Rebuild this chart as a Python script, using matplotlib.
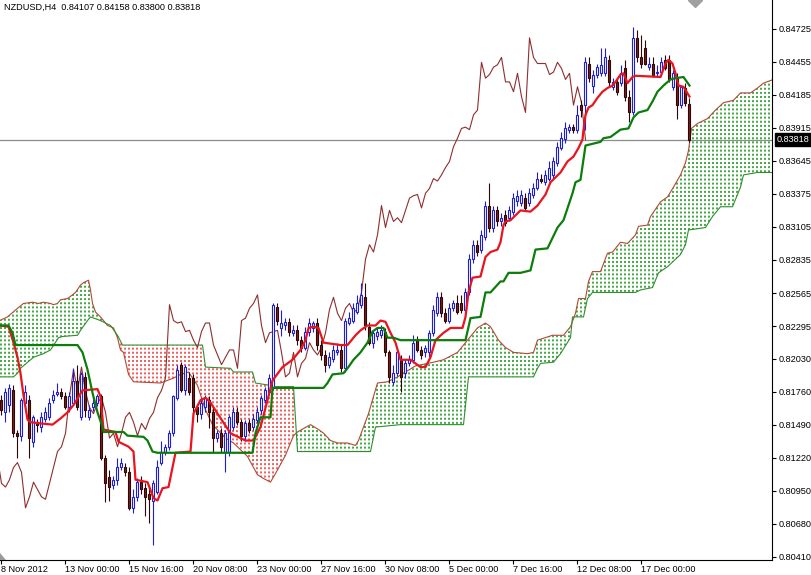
import numpy as np
import matplotlib
matplotlib.use('Agg')
import matplotlib.pyplot as plt
from matplotlib.patches import Polygon
from matplotlib import transforms

plt.rcParams['font.family'] = ['Liberation Sans', 'DejaVu Sans']

# NZDUSD H4 candles (one entry per bar, bar 0 = first visible bar)
open_ = [
    0.8169, 0.8159, 0.8165, 0.8177, 0.8142, 0.8140, 0.8167, 0.8169, 0.8135, 0.8151,
    0.8147, 0.8154, 0.8155, 0.8169, 0.8174, 0.8176, 0.8172, 0.8163, 0.8167, 0.8185,
    0.8155, 0.8188, 0.8155, 0.8163, 0.8167, 0.8172, 0.8122, 0.8106, 0.8100, 0.8104,
    0.8114, 0.8114, 0.8110, 0.8081, 0.8090, 0.8102, 0.8097, 0.8092, 0.8087, 0.8094,
    0.8118, 0.8127, 0.8131, 0.8142, 0.8171, 0.8198, 0.8177, 0.8187, 0.8187, 0.8163,
    0.8158, 0.8163, 0.8169, 0.8159, 0.8138, 0.8142, 0.8127, 0.8127, 0.8147, 0.8159,
    0.8151, 0.8140, 0.8150, 0.8147, 0.8153, 0.8161, 0.8169, 0.8176, 0.8180, 0.8245,
    0.8228, 0.8230, 0.8233, 0.8224, 0.8226, 0.8218, 0.8212, 0.8225, 0.8228, 0.8232,
    0.8214, 0.8206, 0.8198, 0.8203, 0.8208, 0.8210, 0.8195, 0.8232, 0.8234, 0.8241,
    0.8247, 0.8253, 0.8229, 0.8216, 0.8221, 0.8222, 0.8225, 0.8208, 0.8184, 0.8191,
    0.8202, 0.8191, 0.8199, 0.8202, 0.8218, 0.8210, 0.8208, 0.8208, 0.8224, 0.8240,
    0.8253, 0.8240, 0.8234, 0.8244, 0.8248, 0.8248, 0.8243, 0.8257, 0.8284, 0.8296,
    0.8292, 0.8302, 0.8328, 0.8310, 0.8324, 0.8315, 0.8320, 0.8318, 0.8323, 0.8332,
    0.8330, 0.8334, 0.8330, 0.8337, 0.8342, 0.8350, 0.8347, 0.8350, 0.8353, 0.8363,
    0.8375, 0.8382, 0.8390, 0.8392, 0.8390, 0.8410, 0.8410, 0.8444, 0.8426, 0.8435,
    0.8436, 0.8436, 0.8447, 0.8425, 0.8429, 0.8428, 0.8440, 0.8417, 0.8404, 0.8465,
    0.8449, 0.8457, 0.8441, 0.8444, 0.8436, 0.8437, 0.8447, 0.8447, 0.8425, 0.8432,
    0.8410, 0.8424, 0.84107]
high = [
    0.8173, 0.8179, 0.8182, 0.8181, 0.8145, 0.8171, 0.8181, 0.8173, 0.8157, 0.8154,
    0.8159, 0.8163, 0.8171, 0.8177, 0.8183, 0.8179, 0.8176, 0.8176, 0.8195, 0.8198,
    0.8192, 0.8192, 0.8165, 0.8171, 0.8174, 0.8174, 0.8124, 0.8112, 0.8107, 0.8122,
    0.8122, 0.8118, 0.8114, 0.8096, 0.8105, 0.8107, 0.8101, 0.8100, 0.8104, 0.8120,
    0.8136, 0.8133, 0.8145, 0.8173, 0.8198, 0.8200, 0.8198, 0.8192, 0.8190, 0.8166,
    0.8171, 0.8173, 0.8172, 0.8163, 0.8145, 0.8146, 0.8145, 0.8157, 0.8163, 0.8163,
    0.8154, 0.8153, 0.8154, 0.8158, 0.8163, 0.8173, 0.8180, 0.8190, 0.8248, 0.8248,
    0.8243, 0.8236, 0.8236, 0.8230, 0.8230, 0.8221, 0.8229, 0.8236, 0.8234, 0.8236,
    0.8218, 0.8210, 0.8208, 0.8214, 0.8216, 0.8214, 0.8236, 0.8241, 0.8248, 0.8255,
    0.8265, 0.8265, 0.8233, 0.8226, 0.8228, 0.8230, 0.8228, 0.8210, 0.8198, 0.8210,
    0.8206, 0.8203, 0.8206, 0.8222, 0.8221, 0.8213, 0.8214, 0.8226, 0.8247, 0.8257,
    0.8257, 0.8244, 0.8248, 0.8251, 0.8255, 0.8255, 0.8261, 0.8288, 0.8300, 0.8300,
    0.8308, 0.8332, 0.8346, 0.8328, 0.8328, 0.8322, 0.8324, 0.8328, 0.8338, 0.8341,
    0.8341, 0.8338, 0.8342, 0.8346, 0.8355, 0.8354, 0.8357, 0.8364, 0.8368, 0.8380,
    0.8388, 0.8396, 0.8395, 0.8395, 0.8410, 0.8414, 0.8449, 0.8449, 0.8439, 0.8444,
    0.8457, 0.8457, 0.8451, 0.8432, 0.8432, 0.8443, 0.8447, 0.8422, 0.8474, 0.8471,
    0.8467, 0.8463, 0.8449, 0.8449, 0.8443, 0.8449, 0.8451, 0.8451, 0.8439, 0.8436,
    0.8426, 0.8428, 0.84158]
low = [
    0.8157, 0.8151, 0.8159, 0.8139, 0.8122, 0.8136, 0.8164, 0.8122, 0.8131, 0.8143,
    0.8143, 0.8151, 0.8153, 0.8167, 0.8172, 0.8170, 0.8162, 0.8159, 0.8165, 0.8161,
    0.8153, 0.8155, 0.8153, 0.8160, 0.8164, 0.8120, 0.8086, 0.8087, 0.8096, 0.8100,
    0.8112, 0.8107, 0.8079, 0.8077, 0.8087, 0.8092, 0.8074, 0.8069, 0.8051, 0.8092,
    0.8116, 0.8124, 0.8128, 0.8140, 0.8169, 0.8176, 0.8173, 0.8173, 0.8153, 0.8151,
    0.8154, 0.8159, 0.8146, 0.8126, 0.8135, 0.8127, 0.8110, 0.8123, 0.8145, 0.8149,
    0.8136, 0.8136, 0.8142, 0.8145, 0.8150, 0.8158, 0.8167, 0.8173, 0.8177, 0.8230,
    0.8221, 0.8226, 0.8221, 0.8221, 0.8214, 0.8208, 0.8210, 0.8221, 0.8225, 0.8210,
    0.8202, 0.8192, 0.8195, 0.8200, 0.8206, 0.8192, 0.8192, 0.8230, 0.8232, 0.8239,
    0.8244, 0.8226, 0.8214, 0.8212, 0.8218, 0.8220, 0.8205, 0.8183, 0.8181, 0.8189,
    0.8176, 0.8187, 0.8197, 0.8199, 0.8208, 0.8203, 0.8204, 0.8204, 0.8221, 0.8238,
    0.8237, 0.8232, 0.8232, 0.8242, 0.8239, 0.8240, 0.8240, 0.8255, 0.8281, 0.8287,
    0.8289, 0.8300, 0.8306, 0.8306, 0.8311, 0.8311, 0.8311, 0.8315, 0.8320, 0.8328,
    0.8328, 0.8324, 0.8328, 0.8334, 0.8341, 0.8346, 0.8345, 0.8348, 0.8350, 0.8360,
    0.8373, 0.8379, 0.8387, 0.8387, 0.8387, 0.8400, 0.8390, 0.8429, 0.8420, 0.8432,
    0.8434, 0.8434, 0.8426, 0.8422, 0.8418, 0.8426, 0.8413, 0.8396, 0.8402, 0.8445,
    0.8440, 0.8443, 0.8439, 0.8433, 0.8434, 0.8435, 0.8439, 0.8429, 0.8422, 0.8399,
    0.8408, 0.8409, 0.83800]
close = [
    0.8161, 0.8176, 0.8179, 0.8142, 0.8140, 0.8169, 0.8176, 0.8138, 0.8155, 0.8149,
    0.8155, 0.8159, 0.8167, 0.8173, 0.8176, 0.8172, 0.8163, 0.8172, 0.8185, 0.8163,
    0.8190, 0.8161, 0.8161, 0.8167, 0.8172, 0.8122, 0.8101, 0.8098, 0.8104, 0.8114,
    0.8118, 0.8110, 0.8081, 0.8090, 0.8102, 0.8096, 0.8090, 0.8088, 0.8101, 0.8114,
    0.8127, 0.8131, 0.8142, 0.8172, 0.8194, 0.8177, 0.8196, 0.8176, 0.8163, 0.8158,
    0.8167, 0.8171, 0.8159, 0.8138, 0.8142, 0.8131, 0.8142, 0.8155, 0.8159, 0.8151,
    0.8140, 0.8150, 0.8145, 0.8154, 0.8159, 0.8171, 0.8177, 0.8187, 0.8247, 0.8234,
    0.8232, 0.8233, 0.8225, 0.8226, 0.8218, 0.8212, 0.8225, 0.8232, 0.8232, 0.8214,
    0.8206, 0.8198, 0.8204, 0.8210, 0.8210, 0.8195, 0.8234, 0.8236, 0.8244, 0.8248,
    0.8255, 0.8230, 0.8216, 0.8224, 0.8225, 0.8226, 0.8208, 0.8188, 0.8191, 0.8208,
    0.8188, 0.8199, 0.8203, 0.8216, 0.8210, 0.8206, 0.8212, 0.8224, 0.8243, 0.8253,
    0.8240, 0.8234, 0.8244, 0.8248, 0.8241, 0.8243, 0.8257, 0.8284, 0.8296, 0.8290,
    0.8304, 0.8328, 0.8310, 0.8324, 0.8315, 0.8318, 0.8314, 0.8324, 0.8334, 0.8336,
    0.8337, 0.8326, 0.8338, 0.8342, 0.8350, 0.8348, 0.8353, 0.8359, 0.8364, 0.8376,
    0.8383, 0.8391, 0.8392, 0.8390, 0.8402, 0.8406, 0.8445, 0.8432, 0.8435, 0.8441,
    0.8443, 0.8449, 0.8429, 0.8429, 0.8421, 0.8436, 0.8417, 0.8404, 0.8465, 0.8449,
    0.8444, 0.8444, 0.8444, 0.8435, 0.8437, 0.8445, 0.8440, 0.8431, 0.8436, 0.8410,
    0.8425, 0.8412, 0.83818]

# Ichimoku lines, read as vertices (bar position, price)
tenkan_bar = [-0.5, 1.75, 3, 4, 4.75, 5.5, 6.5, 7.25, 9.75, 12.75, 14.75, 16.5, 18, 20.25, 24,
              24.75, 25.5, 28.5, 29.25, 31.75, 33, 33.5, 36.5, 38, 39, 40.25, 41.75, 42.75, 43.5,
              47.25, 48, 49.75, 51, 52.25, 54, 57.25, 61, 63, 64.75, 66.5, 67.75, 70.25, 72.75,
              74.75, 76, 76.75, 78, 79.25, 80.5, 84.75, 86.5, 88.5, 89.75, 91.5, 93.5, 94.75, 96,
              97.25, 98.5, 99.75, 102.25, 104.75, 106, 107.25, 108.5, 110.5, 112.25, 115.25, 116,
              116.75, 117.75, 119.75, 121, 122.25, 124, 124.75, 125.5, 126, 127.25, 128.5, 129.75,
              132.25, 134, 136, 137.25, 138.5, 139.75, 141.5, 143, 144.25, 145.25, 145.5, 146,
              146.75, 147.75, 149, 150.25, 151.5, 152.75, 153.5, 154.75, 155.5, 156.5, 157.75,
              158.5, 164.75, 166, 166.75, 167.75, 168.5, 169.25, 170.5, 172]
tenkan = [0.8230, 0.8229, 0.8216, 0.8204, 0.8191, 0.8173, 0.8153, 0.8151, 0.8150, 0.8149, 0.8154,
          0.8159, 0.8165, 0.8177, 0.8178, 0.8172, 0.8145, 0.8143, 0.8135, 0.8131, 0.8127, 0.8104,
          0.8102, 0.8089, 0.8087, 0.8097, 0.8098, 0.8114, 0.8126, 0.8127, 0.8158, 0.8169, 0.8171,
          0.8167, 0.8158, 0.8142, 0.8136, 0.8136, 0.8147, 0.8169, 0.8185, 0.8196, 0.8202, 0.8210,
          0.8218, 0.8228, 0.8229, 0.8228, 0.8216, 0.8214, 0.8214, 0.8222, 0.8226, 0.8230, 0.8230,
          0.8234, 0.8233, 0.8224, 0.8216, 0.8202, 0.8202, 0.8196, 0.8196, 0.8204, 0.8218, 0.8224,
          0.8228, 0.8228, 0.8237, 0.8257, 0.8269, 0.8270, 0.8286, 0.8290, 0.8292, 0.8298, 0.8312,
          0.8315, 0.8316, 0.8320, 0.8324, 0.8323, 0.8328, 0.8337, 0.8347, 0.8351, 0.8355, 0.8364,
          0.8368, 0.8375, 0.8382, 0.8390, 0.8402, 0.8408, 0.8410, 0.8416, 0.8421, 0.8424, 0.8426,
          0.8429, 0.8435, 0.8436, 0.8428, 0.8433, 0.8434, 0.8433, 0.8444, 0.8447, 0.8444, 0.8436,
          0.8426, 0.8425, 0.8417]

kijun_bar = [-0.5, 1.75, 2.75, 3.5, 19, 20.25, 21.5, 22.75, 24, 25.25, 25.5, 30.5, 31.5, 35.5,
             36.5, 37.75, 39, 62.75, 63.5, 64.75, 67.25, 67.75, 80.5, 81.5, 82.75, 85.5, 86.5, 88,
             89.75, 91.5, 92.75, 94, 95.5, 96.5, 98, 99.75, 116, 117.25, 119.75, 121, 122.25,
             124.75, 125.5, 126.75, 129.75, 132.25, 133.5, 136.5, 139, 140.5, 142.75, 143.5,
             144.75, 146, 149.75, 150.5, 152.25, 153.5, 154.75, 156.75, 158, 159.25, 161.5,
             162.75, 164, 165.5, 167.25, 168.5, 170.5, 172]
kijun = [0.8230, 0.8230, 0.8224, 0.8214, 0.8214, 0.8208, 0.8194, 0.8175, 0.8159, 0.8147, 0.8143,
         0.8143, 0.8140, 0.8139, 0.8136, 0.8127, 0.8126, 0.8126, 0.8142, 0.8155, 0.8155, 0.8179,
         0.8179, 0.8183, 0.8190, 0.8191, 0.8195, 0.8202, 0.8208, 0.8216, 0.8225, 0.8228, 0.8228,
         0.8220, 0.8220, 0.8218, 0.8218, 0.8236, 0.8237, 0.8257, 0.8257, 0.8266, 0.8266, 0.8273,
         0.8273, 0.8275, 0.8292, 0.8293, 0.8310, 0.8316, 0.8338, 0.8347, 0.8349, 0.8377, 0.8380,
         0.8383, 0.8384, 0.8387, 0.8390, 0.8391, 0.8400, 0.8404, 0.8406, 0.8413, 0.8421, 0.8426,
         0.8431, 0.8432, 0.8433, 0.8426]

span_a_bar = [-0.5, 1.5, 4, 5.5, 7.75, 9.25, 10.5, 12.25, 13, 14, 14.75, 16.5, 17.75, 18.5,
              19.75, 20.5, 21.75, 22.25, 22.75, 23.5, 24.75, 26.5, 28, 29, 29.75, 30.5, 31.75, 33,
              39.75, 43, 44.75, 46.75, 49, 51, 52.75, 56, 58, 61.5, 64, 65.5, 67.25, 69, 71, 73,
              74, 77.25, 79.25, 80.5, 82.25, 84, 86.5, 88.5, 89.25, 90.5, 91.75, 93, 94, 96.5, 99,
              103.5, 108, 110.5, 114, 116.5, 119, 121, 122.25, 124.25, 126, 128, 131.5, 133, 134,
              137.75, 140.5, 142.25, 143.5, 144.25, 146, 146.75, 147.75, 149.75, 151.5, 152.75,
              154.75, 156.5, 158.5, 159.25, 161.5, 162.25, 164.75, 166.5, 168, 169.75, 171,
              171.75, 172.5, 174, 176.5, 178.5, 180.5, 183, 184.75, 187.25, 189, 190.5, 193]
span_a = [0.8234, 0.8237, 0.8244, 0.8248, 0.8249, 0.8248, 0.8249, 0.8248, 0.8247, 0.8248, 0.8251,
          0.8252, 0.8255, 0.8257, 0.8263, 0.8265, 0.8267, 0.8259, 0.8248, 0.8241, 0.8237, 0.8230,
          0.8228, 0.8220, 0.8210, 0.8208, 0.8190, 0.8184, 0.8183, 0.8187, 0.8190, 0.8192, 0.8181,
          0.8161, 0.8149, 0.8138, 0.8134, 0.8123, 0.8108, 0.8105, 0.8102, 0.8112, 0.8124, 0.8140,
          0.8143, 0.8149, 0.8145, 0.8142, 0.8136, 0.8134, 0.8134, 0.8132, 0.8136, 0.8147, 0.8158,
          0.8172, 0.8183, 0.8184, 0.8188, 0.8197, 0.8200, 0.8202, 0.8208, 0.8218, 0.8228, 0.8232,
          0.8229, 0.8218, 0.8212, 0.8208, 0.8207, 0.8208, 0.8218, 0.8222, 0.8222, 0.8229, 0.8240,
          0.8252, 0.8252, 0.8266, 0.8274, 0.8274, 0.8289, 0.8290, 0.8298, 0.8297, 0.8304, 0.8311,
          0.8312, 0.8319, 0.8331, 0.8335, 0.8343, 0.8353, 0.8363, 0.8373, 0.8391, 0.8395, 0.8399,
          0.8406, 0.8412, 0.8414, 0.8420, 0.8420, 0.8424, 0.8428, 0.8431]

span_b_bar = [-0.5, 3, 4, 4.75, 8, 10.5, 12.25, 14.25, 15.25, 19, 19.75, 21.5, 22.25, 24.75,
              27.25, 29, 30.25, 50.25, 51, 57.25, 58, 62.75, 63.5, 67.25, 67.75, 73, 74, 92.25,
              93.5, 99.75, 115.5, 116.75, 133, 134, 134.75, 138, 139.75, 142.25, 142.75, 145.5,
              146.5, 147.75, 158.5, 159.75, 162.75, 164.25, 166.5, 169.75, 171, 171.75, 176,
              177.75, 179.75, 182.75, 184.75, 185.5, 189, 193]
span_b = [0.8188, 0.8188, 0.8191, 0.8195, 0.8204, 0.8207, 0.8210, 0.8220, 0.8221, 0.8222, 0.8226,
          0.8234, 0.8237, 0.8234, 0.8230, 0.8222, 0.8214, 0.8214, 0.8196, 0.8195, 0.8192, 0.8192,
          0.8183, 0.8181, 0.8180, 0.8180, 0.8127, 0.8127, 0.8147, 0.8149, 0.8149, 0.8188, 0.8188,
          0.8195, 0.8199, 0.8200, 0.8207, 0.8220, 0.8237, 0.8237, 0.8252, 0.8257, 0.8257, 0.8259,
          0.8261, 0.8273, 0.8278, 0.8288, 0.8296, 0.8308, 0.8310, 0.8319, 0.8327, 0.8327, 0.8343,
          0.8353, 0.8355, 0.8355]

kumo_twists = [29, 74]      # bars where the cloud changes colour
chikou_shift = 26

price_ticks = [0.84725, 0.84455, 0.84185, 0.83915, 0.83645, 0.83375, 0.83105, 0.82835, 0.82565,
               0.82295, 0.82030, 0.81760, 0.81490, 0.81220, 0.80950, 0.80680, 0.80410]
date_bars = [0, 16, 32, 48, 64, 80, 96, 112, 128, 144, 160]
date_labels = ['8 Nov 2012', '13 Nov 00:00', '15 Nov 16:00', '20 Nov 08:00', '23 Nov 00:00',
               '27 Nov 16:00', '30 Nov 08:00', '5 Dec 00:00', '7 Dec 16:00', '12 Dec 08:00',
               '17 Dec 00:00']

o = np.array(open_); h = np.array(high); l = np.array(low); c = np.array(close)
bars = np.arange(len(c))
up = c >= o

fig = plt.figure(figsize=(8.12, 5.75), dpi=100)
ax = fig.add_axes([0, 15 / 575, 772 / 812, 560 / 575])
ax.set_xlim(-0.375, 192.625)
ax.set_ylim(0.80384, 0.84959)
y0, y1 = ax.get_ylim()

# cloud: dotted columns (one per bar) clipped to the band between the two spans
band = Polygon(np.column_stack([np.r_[span_a_bar, span_b_bar[::-1]],
                                np.r_[span_a, span_b[::-1]]]),
               closed=True, facecolor='none', edgecolor='none')
ax.add_patch(band)
hb = np.arange(0, 194)
bull_cloud = np.searchsorted(kumo_twists, hb, side='right') % 2 == 0
for mask, col in [(bull_cloud, '#119011'), (~bull_cloud, '#f03030')]:
    vl = ax.vlines(hb[mask], y0, y1, colors=col, linestyles=(0, (1.3, 1.4)),
                   linewidth=1.1, zorder=1)
    vl.set_clip_path(band)

ax.plot(span_a_bar, span_a, color='#b04a35', lw=0.8, zorder=2)
ax.plot(span_b_bar, span_b, color='#2f8f2f', lw=0.8, zorder=2)
ax.plot(bars - chikou_shift, c, color='#8e2e2e', lw=0.8, zorder=2)

ax.axhline(c[-1], color='#8c8c8c', lw=0.9, zorder=0.5)

# candles
ax.vlines(bars[up], l[up], h[up], color='#1e1ed2', lw=0.8, zorder=3)
ax.vlines(bars[~up], l[~up], h[~up], color='#2a0808', lw=0.8, zorder=3)
ax.bar(bars[up], (c - o)[up], bottom=o[up], width=0.5, facecolor='white',
       edgecolor='#1e1ed2', linewidth=0.8, zorder=4)
ax.bar(bars[~up], (o - c)[~up], bottom=c[~up], width=0.5, facecolor='#861c1c',
       edgecolor='#2a0808', linewidth=0.8, zorder=4)

ax.plot(tenkan_bar, tenkan, color='#e8141e', lw=1.6, zorder=5, solid_joinstyle='round')
ax.plot(kijun_bar, kijun, color='#0b7d0b', lw=1.6, zorder=5, solid_joinstyle='round')

# axes styling, MT4 look
for s in ['top', 'left']:
    ax.spines[s].set_visible(False)
for s in ['right', 'bottom']:
    ax.spines[s].set_linewidth(0.8)
ax.yaxis.tick_right()
ax.set_yticks(price_ticks)
ax.set_yticklabels(['%.5f' % p for p in price_ticks])
ax.tick_params(axis='y', direction='out', length=3, width=0.8, pad=2, labelsize=6.6)
ax.set_xticks(date_bars)
ax.set_xticklabels(date_labels, ha='left')
ax.tick_params(axis='x', direction='out', length=3, width=0.8, pad=0.5, labelsize=6.6)

ax.text(4 / 772, 1 - 7 / 560, 'NZDUSD,H4  %.5f %.5f %.5f %.5f' % (o[-1], h[-1], l[-1], c[-1]),
        transform=ax.transAxes, ha='left', va='center', fontsize=6.6)

tr = transforms.blended_transform_factory(ax.transAxes, ax.transData)
ax.text(1 + 5 / 772, c[-1], '%.5f' % c[-1], transform=tr, ha='left', va='center',
        color='white', fontsize=6.6, clip_on=False,
        bbox=dict(boxstyle='square,pad=0.2', fc='black', ec='black'))

# chart shift marker and corner mark
ax.plot([695 / 772], [1.0], marker='D', ms=7, color='#a0a0a0', transform=ax.transAxes,
        clip_on=True, zorder=6)
ax.add_patch(Polygon([(0, 0), (6 / 772, 0), (0, 7 / 560)], closed=True, transform=ax.transAxes,
                     facecolor='#9a9a9a', edgecolor='none', zorder=6))

fig.savefig('out.png', dpi=100)
